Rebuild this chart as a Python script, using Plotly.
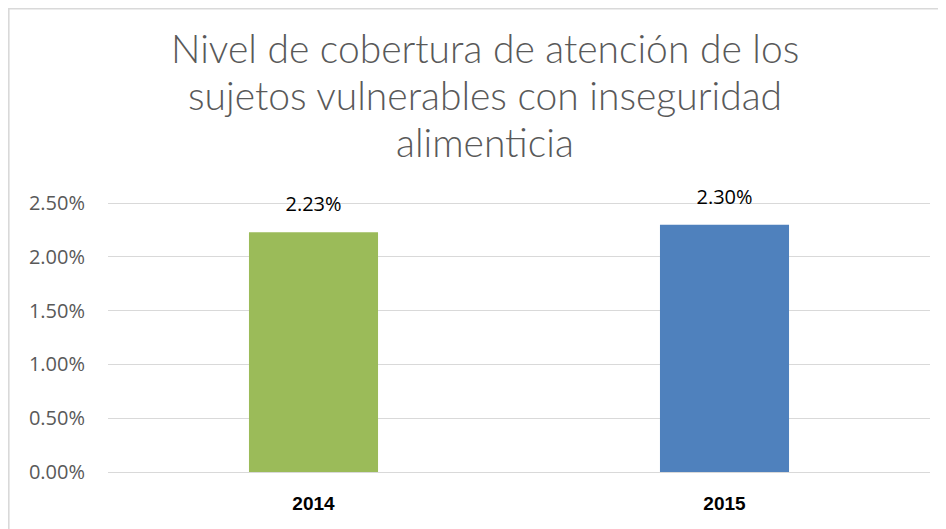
import plotly.graph_objects as go

anios = ["2014", "2015"]
cobertura = [2.23, 2.30]
colores = ["#9BBB59", "#4F81BD"]
etiquetas = ["2.23%", "2.30%"]
ticks_y = [0, 0.5, 1.0, 1.5, 2.0, 2.5]
ticks_y_texto = ["0.00%", "0.50%", "1.00%", "1.50%", "2.00%", "2.50%"]

titulo = [
    "Nivel de cobertura de atención de los",
    "sujetos vulnerables con inseguridad",
    "alimenticia",
]

# la pagina tiene 8px de margen en el body, asi que todo va desplazado 8px
W, H = 946, 529
izq, der, arriba, abajo = 100, 24, 193, 65

fig = go.Figure()
fig.add_trace(
    go.Bar(
        x=anios,
        y=cobertura,
        marker=dict(color=colores, line=dict(width=0)),
        hoverinfo="skip",
    )
)

# etiquetas de datos: texto encima de un marcador invisible para separarlas de la barra
fig.add_trace(
    go.Scatter(
        x=anios,
        y=cobertura,
        mode="markers+text",
        text=etiquetas,
        textposition="top center",
        marker=dict(size=24, opacity=0),
        textfont=dict(family="Open Sans, Noto Sans, sans-serif", size=20, color="#000000"),
        cliponaxis=False,
        hoverinfo="skip",
    )
)

# borde del gráfico (coordenadas de papel calculadas desde pixeles)
ancho = W - izq - der
alto = H - arriba - abajo
def px_x(p):
    return (p - izq) / ancho
def px_y(p):
    return (H - abajo - p) / alto

fig.add_shape(
    type="rect", xref="paper", yref="paper",
    x0=px_x(0.8), x1=px_x(960), y0=px_y(560), y1=px_y(0.8),
    line=dict(color="#D9D9D9", width=1.6), fillcolor="rgba(0,0,0,0)", layer="below",
)

# titulo en tres lineas, una anotacion por linea para controlar el interlineado
for i, linea in enumerate(titulo):
    fig.add_annotation(
        text=linea, xref="paper", yref="paper",
        x=px_x(476.5), y=px_y(40 + 47 * i),
        xanchor="center", yanchor="middle", showarrow=False,
        font=dict(family="Lato, Open Sans, sans-serif", size=39, color="#595959", weight=300),
    )

fig.update_layout(
    width=W,
    height=H,
    margin=dict(l=izq, r=der, t=arriba, b=abajo),
    paper_bgcolor="white",
    plot_bgcolor="white",
    showlegend=False,
    bargap=0.686,
    xaxis=dict(
        type="category",
        showgrid=False,
        showline=False,
        tickfont=dict(family="Arial, Liberation Sans, sans-serif", size=19, color="#000000", weight="bold"),
        ticks="",
        ticklabelstandoff=18,
    ),
    yaxis=dict(
        range=[0, 2.52],  # un poco por encima para que se vea la linea del 2.50%
        tickvals=ticks_y,
        ticktext=ticks_y_texto,
        showgrid=True,
        gridcolor="#D9D9D9",
        gridwidth=1.3,
        zeroline=True,
        zerolinecolor="#D9D9D9",
        zerolinewidth=1.3,
        showline=False,
        ticks="",
        tickfont=dict(family="Open Sans, Noto Sans, sans-serif", size=20, color="#595959"),
        ticklabelstandoff=22,
    ),
)

fig.write_html("out.html")
